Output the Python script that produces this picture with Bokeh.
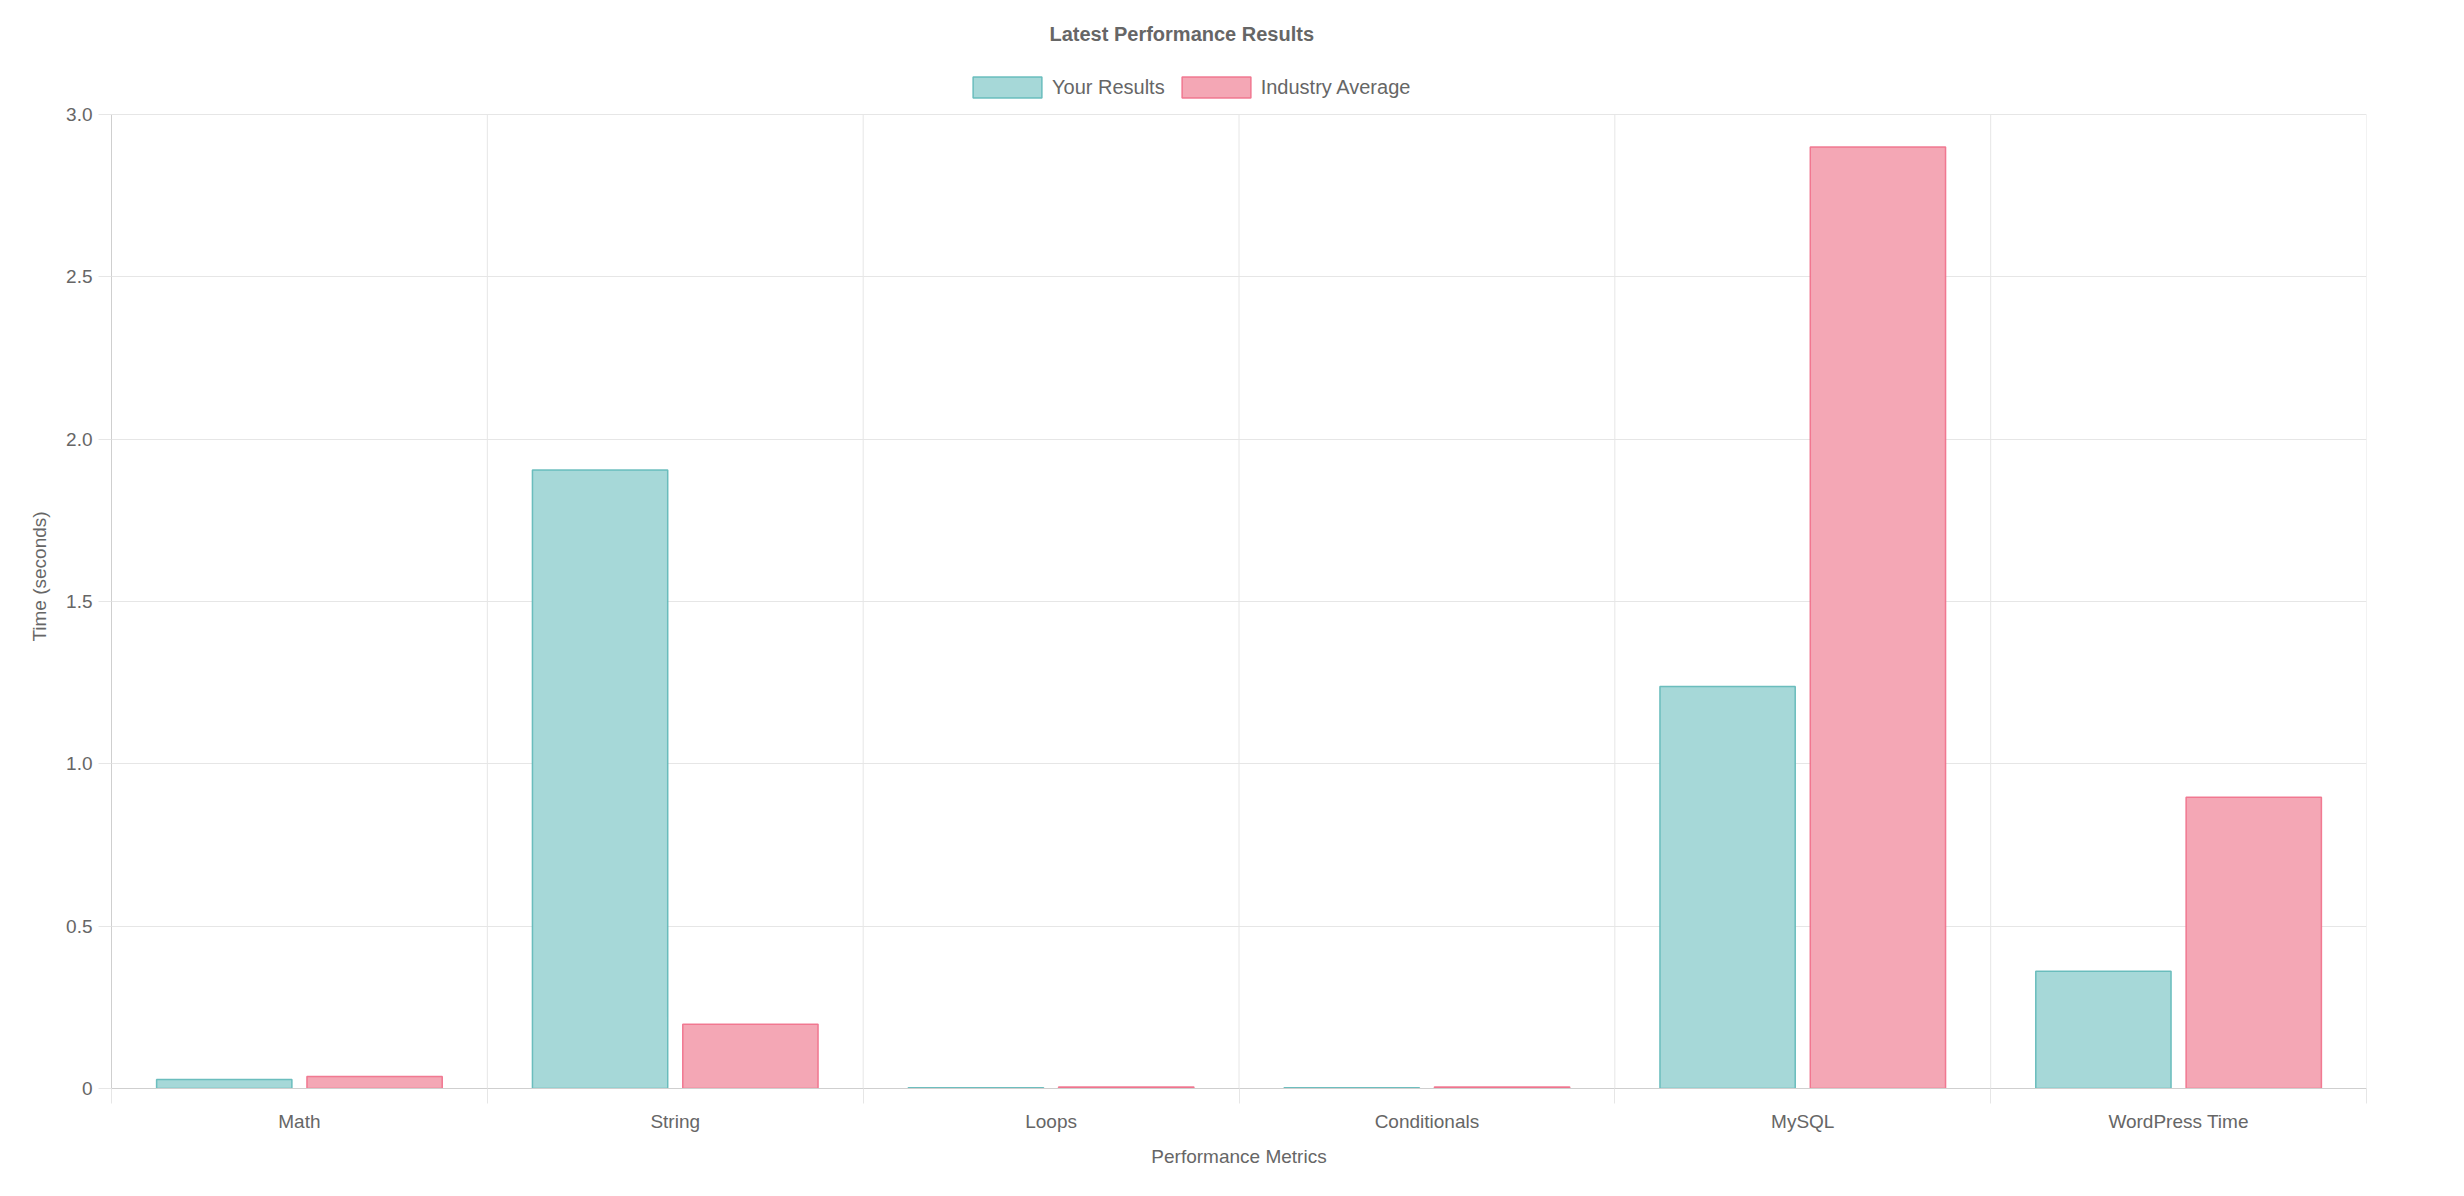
from bokeh.plotting import figure
from bokeh.models import ColumnDataSource, Range1d, FixedTicker, NumeralTickFormatter, Legend, LegendItem
from bokeh.transform import dodge
from bokeh.embed import file_html
from bokeh.resources import INLINE

categories = ["Math", "String", "Loops", "Conditionals", "MySQL", "WordPress Time"]
your_results = [0.028, 1.905, 0.002, 0.002, 1.238, 0.361]
industry_average = [0.037, 0.198, 0.005, 0.005, 2.9, 0.897]
y_ticks = [0, 0.5, 1.0, 1.5, 2.0, 2.5, 3.0]

FONT = "Liberation Sans"
GREY = "#666666"
GRID = "#e6e6e6"

centers = [i + 0.5 for i in range(len(categories))]
bounds = list(range(1, len(categories) + 1))
src = ColumnDataSource(dict(x=centers, cat=categories, yours=your_results, avg=industry_average))

# frame is a bit taller than the value axis so the legend can sit above the 3.0 line
p = figure(width=2448, height=1180,
           x_range=Range1d(0, len(categories)), y_range=Range1d(0, 3.154),
           output_backend="svg", toolbar_location=None,
           min_border_left=111, min_border_right=82, min_border_top=64, min_border_bottom=92)

p.title.text = "Latest Performance Results"
p.title.align = "left"
p.title.offset = 938
p.title.standoff = 39
p.title.text_font = FONT
p.title.text_font_size = "20px"
p.title.text_font_style = "bold"
p.title.text_color = GREY

# category separators, only as high as the value axis
p.segment(x0=bounds, y0=0, x1=bounds, y1=y_ticks[-1], line_color=GRID, line_width=1)

r1 = p.vbar(x=dodge("x", -0.2), top="yours", width=0.36, source=src,
            fill_color="#a6d8d8", line_color="#5fb8b8", line_alpha=0.9, line_width=1.5)
r2 = p.vbar(x=dodge("x", 0.2), top="avg", width=0.36, source=src,
            fill_color="#f4a7b5", line_color="#ef6f8a", line_alpha=0.9, line_width=1.5)

# y axis
p.yaxis.ticker = FixedTicker(ticks=y_ticks, minor_ticks=[])
p.yaxis.formatter = NumeralTickFormatter(format="0.0")
p.yaxis.major_label_overrides = {0: "0"}
p.yaxis.bounds = (0, y_ticks[-1])
p.yaxis.axis_label = "Time (seconds)"
p.yaxis.axis_line_color = "#cfcfcf"
p.yaxis.major_tick_out = 13
p.yaxis.major_tick_in = 0
p.yaxis.major_tick_line_color = GRID
p.yaxis.major_label_standoff = 6
p.yaxis.axis_label_standoff = 13

# x axis: labels at centres, tick marks at category boundaries
p.xaxis.ticker = FixedTicker(ticks=centers, minor_ticks=list(range(len(categories) + 1)))
p.xaxis.major_label_overrides = {c: n for c, n in zip(centers, categories)}
p.xaxis.axis_label = "Performance Metrics"
p.xaxis.axis_line_color = "#cfcfcf"
p.xaxis.major_tick_line_color = None
p.xaxis.major_tick_out = 15
p.xaxis.minor_tick_out = 15
p.xaxis.minor_tick_in = 0
p.xaxis.minor_tick_line_color = GRID
p.xaxis.major_label_standoff = 7
p.xaxis.axis_label_standoff = 11

for ax in (p.xaxis, p.yaxis):
    ax.major_label_text_font = FONT
    ax.major_label_text_font_size = "19px"
    ax.major_label_text_color = GREY
    ax.axis_label_text_font = FONT
    ax.axis_label_text_font_size = "19px"
    ax.axis_label_text_font_style = "normal"
    ax.axis_label_text_color = GREY

p.xgrid.grid_line_color = None
p.ygrid.ticker = FixedTicker(ticks=y_ticks)
p.ygrid.grid_line_color = GRID
p.outline_line_color = None

legend = Legend(items=[LegendItem(label="Your Results", renderers=[r1]),
                       LegendItem(label="Industry Average", renderers=[r2])],
                orientation="horizontal", location=(853, 988),
                glyph_width=86, glyph_height=26, spacing=8, label_standoff=2,
                label_text_font=FONT, label_text_font_size="20px", label_text_color=GREY,
                border_line_color=None, background_fill_alpha=0, padding=0, margin=0)
p.add_layout(legend)

open("out.html", "w").write(file_html(p, INLINE))
